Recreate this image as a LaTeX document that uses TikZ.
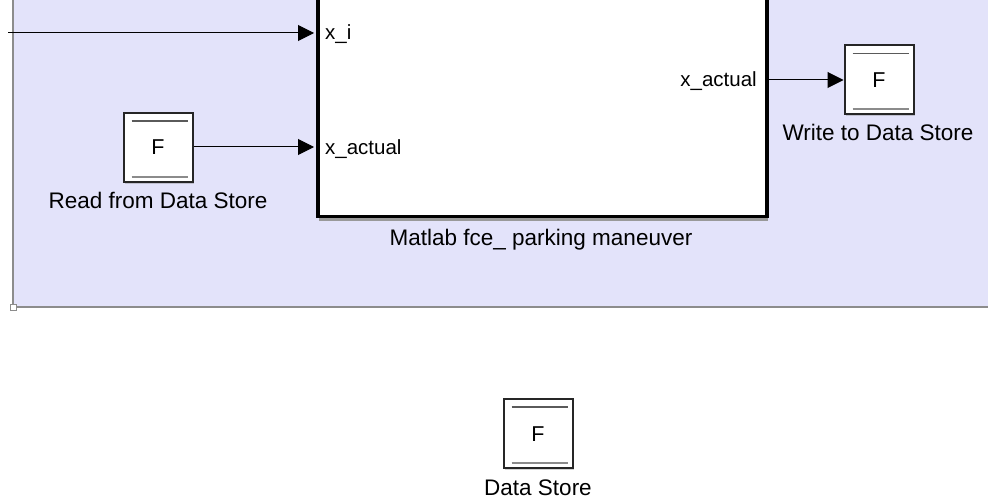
\documentclass[tikz,border=0pt]{standalone}
\usepackage{fontspec}
\setmainfont{Liberation Sans}
\usetikzlibrary{arrows.meta,shadows}
\definecolor{areafill}{HTML}{E3E3FA}
\definecolor{areaedge}{HTML}{8C8C8C}
\definecolor{storeline}{HTML}{5A5A5A}
\tikzset{
  signal/.style={draw=black, line width=1pt, -{Triangle[length=16pt,width=16pt]}},
  portlbl/.style={font=\fontsize{20.5}{24}\selectfont, inner sep=0pt},
  blklbl/.style={font=\fontsize{22.5}{26}\selectfont, inner sep=0pt},
  storebox/.style={draw=black!85, line width=2pt, fill=white, minimum width=69pt, minimum height=69pt,
    inner sep=0pt,
    drop shadow={shadow xshift=1.5pt, shadow yshift=-1.5pt, opacity=0.35, fill=black!50}},
  storeF/.style={font=\fontsize{21.5}{24}\selectfont, inner sep=0pt, anchor=base},
}
\begin{document}
\begin{tikzpicture}[x=1pt,y=-1pt]
\useasboundingbox (0,0) rectangle (988,500);
% shaded subsystem area
\fill[areafill] (13,-5) rectangle (995,307);
\draw[areaedge, line width=1.2pt] (13,-5) -- (13,307) -- (995,307);
\draw[areaedge, line width=0.8pt, fill=white] (10,304) rectangle (16,310);
% MATLAB function block
\fill[black!40] (319,-10) rectangle (768,221);
\node[draw=black, line width=3.5pt, fill=white, minimum width=449pt, minimum height=230pt, inner sep=0pt, anchor=south west]
  (fcn) at (316,218) {};
\node[blklbl, anchor=base] (fcnlbl) at (541,245) {Matlab fce\_ parking maneuver};
% ports
\coordinate (pin1) at (314,33);
\coordinate (pin2) at (314,147);
\coordinate (pout) at (765,80);
\node[portlbl, anchor=base west] (lbl1) at (325,40) {x\_i};
\node[portlbl, anchor=base west] (lbl2) at (325,154) {x\_actual};
\node[portlbl, anchor=base east] (lbl3) at (757,87) {x\_actual};
% data store blocks
\node[storebox] (rd) at (158,147.5) {};
\node[storeF] (rdF) at (158,155) {F};
\node[blklbl, anchor=base] (rdlbl) at (158,208) {Read from Data Store};
\node[storebox] (wr) at (879,80) {};
\node[storeF] (wrF) at (879,87.5) {F};
\node[blklbl, anchor=base] (wrlbl) at (878,141) {Write to Data Store};
\node[storebox] (ds) at (538,433.5) {};
\node[storeF] (dsF) at (538,441) {F};
\node[blklbl, anchor=base] (dslbl) at (538,495) {Data Store};
\foreach \b in {rd,wr,ds}{
  \draw[storeline, line width=1.5pt] ([shift={(9pt,-9pt)}]\b.north west) -- ([shift={(-6pt,-9pt)}]\b.north east);
  \draw[storeline!70, line width=2pt] ([shift={(9pt,6pt)}]\b.south west) -- ([shift={(-6pt,6pt)}]\b.south east);
}
% signal lines
\coordinate (src) at (8,33);
\draw[signal] (src) -- (pin1);
\draw[signal] (rd.east |- pin2) -- (pin2);
\draw[signal] (pout) -- (wr.west);
\end{tikzpicture}
\end{document}
